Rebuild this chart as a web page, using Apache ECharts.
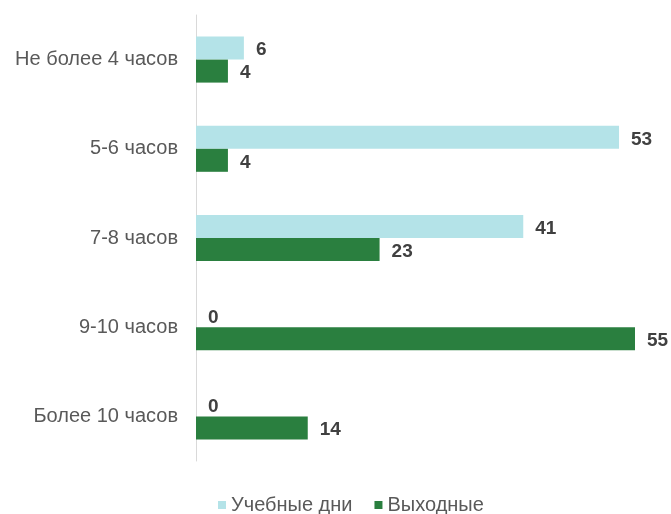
<!DOCTYPE html>
<html>
<head>
<meta charset="utf-8">
<script src="https://cdn.jsdelivr.net/npm/echarts@6/dist/echarts.min.js"></script>
<style>
  html, body { margin: 0; padding: 0; background: #fff; }
  #chart { width: 671px; height: 514px; }
</style>
</head>
<body>
<div id="chart"></div>
<script>
// данные
const categories = ['Не более 4 часов', '5-6 часов', '7-8 часов', '9-10 часов', 'Более 10 часов']
const schoolDays = [6, 53, 41, 0, 0]
const weekends = [4, 4, 23, 55, 14]

const chart = echarts.init(document.getElementById('chart'))

const labelStyle = {
  show: true,
  position: 'right',
  distance: 12,
  offset: [0, 2],
  color: '#404040',
  fontWeight: 'bold',
  fontSize: 19,
  fontFamily: 'Liberation Sans, Arial, sans-serif'
}

chart.setOption({
  animation: false,
  textStyle: { fontFamily: 'Liberation Sans, Arial, sans-serif' },
  grid: { left: 196, right: 36, top: 15, bottom: 53, containLabel: false },
  legend: {
    top: 490,
    left: 213,
    itemWidth: 8,
    itemHeight: 8,
    itemGap: 22,
    icon: 'rect',
    textStyle: { color: '#595959', fontSize: 20 },
    data: ['Учебные дни', 'Выходные']
  },
  xAxis: {
    type: 'value',
    min: 0,
    max: 55,
    show: false
  },
  yAxis: {
    type: 'category',
    inverse: true,
    data: categories,
    axisLine: { lineStyle: { color: '#d9d9d9', width: 1 } },
    axisTick: { show: false },
    axisLabel: { color: '#595959', fontSize: 20, margin: 18 }
  },
  series: [
    {
      name: 'Учебные дни',
      type: 'bar',
      data: schoolDays,
      barWidth: 23,
      barGap: '0%',
      itemStyle: { color: '#b4e3e8' },
      label: labelStyle
    },
    {
      name: 'Выходные',
      type: 'bar',
      data: weekends,
      barWidth: 23,
      barGap: '0%',
      itemStyle: { color: '#2a7f3f' },
      label: labelStyle
    }
  ]
})
</script>
</body>
</html>
